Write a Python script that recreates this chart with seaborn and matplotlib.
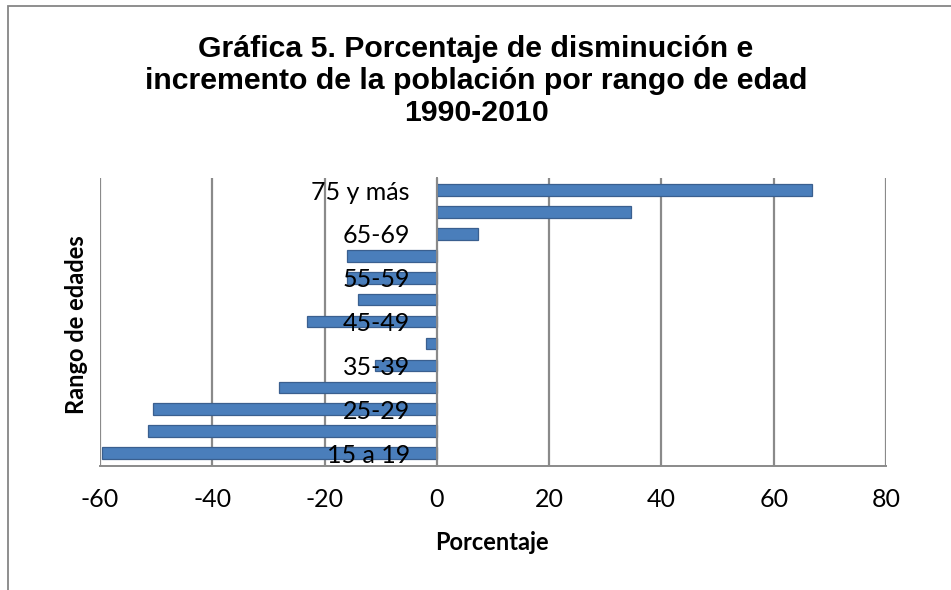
import matplotlib
matplotlib.use("Agg")
import matplotlib.pyplot as plt
import matplotlib.patches as mpatches
import matplotlib.transforms as mtransforms
import seaborn as sns
import pandas as pd

# Data (top to bottom as in the chart)
age_groups = ["75 y más", "70-74", "65-69", "60-64", "55-59", "50-54", "45-49",
              "40-44", "35-39", "30-34", "25-29", "20-24", "15 a 19"]
percent_change = [66.8, 34.6, 7.3, -16.0, -16.0, -14.0, -23.2,
                  -2.0, -11.0, -28.2, -50.5, -51.5, -59.6]
shown_labels = ["75 y más", "", "65-69", "", "55-59", "", "45-49",
                "", "35-39", "", "25-29", "", "15 a 19"]
x_ticks = [-60, -40, -20, 0, 20, 40, 60, 80]

title = "Gráfica 5. Porcentaje de disminución e\nincremento de la población por rango de edad\n1990-2010"
x_label = "Porcentaje"
y_label = "Rango de edades"

df = pd.DataFrame({"edad": age_groups, "pct": percent_change})

sns.set_theme(style="white")
plt.rcParams["font.family"] = ["Lato", "DejaVu Sans"]
plt.rcParams["text.color"] = "black"
plt.rcParams["xtick.color"] = "black"
plt.rcParams["ytick.color"] = "black"

W, H = 951, 590
fig = plt.figure(figsize=(W / 100, H / 100), dpi=100)
ax = fig.add_axes([100 / W, (H - 466) / H, 786 / W, (466 - 178) / H])

sns.barplot(data=df, x="pct", y="edad", order=age_groups, orient="h",
            color="#4a7ebb", saturation=1, width=0.53, edgecolor="#3a5f8f",
            linewidth=0.9, ax=ax, zorder=3)

grid_col = "#8a8a8a"
ax.set_xlim(x_ticks[0], x_ticks[-1])
ax.set_ylim(12.59, -0.55)
ax.set_xticks(x_ticks)
ax.set_xticklabels([str(t) for t in x_ticks])
ax.set_yticks(range(len(age_groups)))
ax.set_yticklabels(shown_labels)
ax.tick_params(axis="y", length=0, pad=19.5, labelsize=18, labelcolor="black")
ax.tick_params(axis="x", length=6, width=1.4, color=grid_col, pad=10,
               direction="out", labelsize=18, labelcolor="black")
ax.yaxis.set_zorder(5)
shift = mtransforms.ScaledTranslation(0, -5 / 100, fig.dpi_scale_trans)
for t in ax.yaxis.get_major_ticks():
    t.label1.set_transform(t.label1.get_transform() + shift)

ax.xaxis.grid(True, color=grid_col, linewidth=1.6, zorder=0)
ax.yaxis.grid(False)
for s in ["top", "right"]:
    ax.spines[s].set_visible(False)
ax.spines["left"].set_position(("data", 0))
ax.spines["left"].set_color(grid_col)
ax.spines["left"].set_linewidth(1.4)
ax.spines["left"].set_zorder(4)
ax.spines["bottom"].set_color(grid_col)
ax.spines["bottom"].set_linewidth(1.4)

ax.set_xlabel("")
ax.set_ylabel("")
fig.text(492 / W, 1 - 543 / H, x_label, ha="center", va="center",
         fontsize=17, fontweight="bold", color="black")
fig.text(77 / W, 1 - 325 / H, y_label, ha="center", va="center",
         rotation=90, fontsize=17, fontweight="bold", color="black")
fig.text(476 / W, 1 - 81 / H, title, ha="center", va="center",
         fontsize=21.8, fontweight="bold", linespacing=1.16, color="black",
         family=["Liberation Sans", "DejaVu Sans"])

border = mpatches.Rectangle((8 / W, -0.2), 2, 1 - 6 / H + 0.2, fill=False,
                            edgecolor="#868686", linewidth=1.3,
                            transform=fig.transFigure, clip_on=False)
fig.patches.append(border)

fig.savefig("out.png", dpi=100, facecolor="white")
